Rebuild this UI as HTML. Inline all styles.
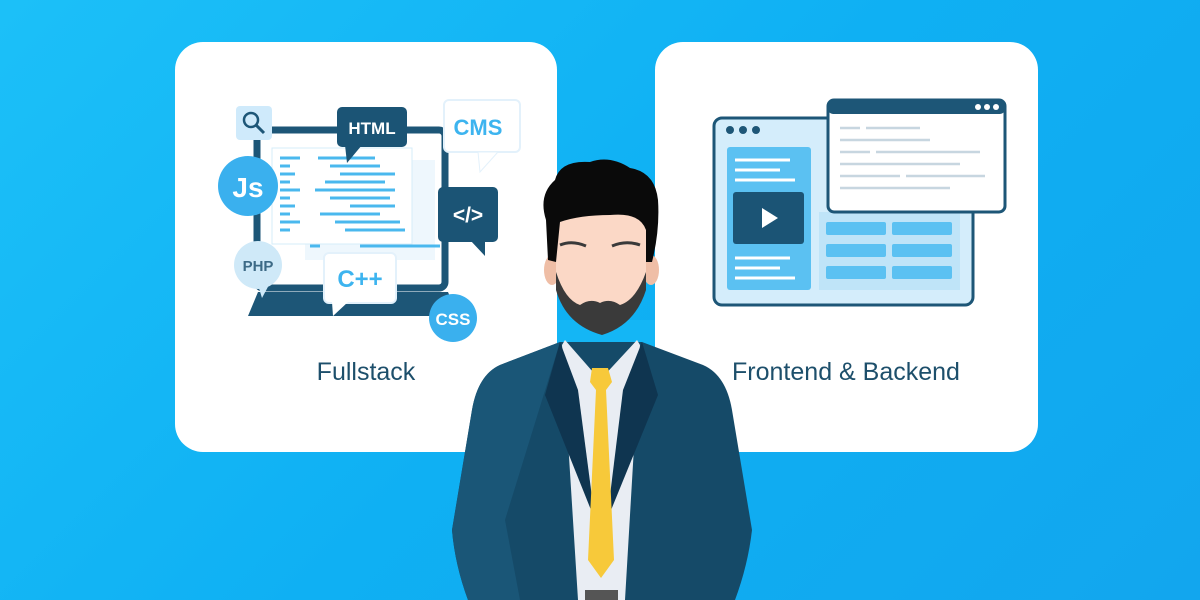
<!DOCTYPE html>
<html><head><meta charset="utf-8"><style>
html,body{margin:0;padding:0;width:1200px;height:600px;overflow:hidden}
body{background:linear-gradient(135deg,#1cc0f8 0%,#0fb0f3 50%,#12a6ee 100%);font-family:"Liberation Sans",sans-serif}
</style></head><body>
<svg width="1200" height="600" viewBox="0 0 1200 600" xmlns="http://www.w3.org/2000/svg" style="position:absolute;left:0;top:0">
<rect x="175" y="42" width="382" height="410" rx="28" fill="#fff"/>
<rect x="655" y="42" width="383" height="410" rx="28" fill="#fff"/>

<rect x="257" y="130" width="188" height="158" rx="6" fill="#fff" stroke="#1d5677" stroke-width="7"/>
<path d="M258 292 L448 292 L458 316 L248 316 Z" fill="#1d5677"/>
<rect x="305" y="160" width="130" height="100" fill="#eef7fd"/>
<rect x="272" y="148" width="140" height="96" fill="#fff" stroke="#d6ecf9"/>
<g stroke="#4ab8ee" stroke-width="3">
<line x1="280" y1="158" x2="300" y2="158"/><line x1="318" y1="158" x2="375" y2="158"/>
<line x1="280" y1="166" x2="290" y2="166"/><line x1="330" y1="166" x2="380" y2="166"/>
<line x1="280" y1="174" x2="295" y2="174"/><line x1="340" y1="174" x2="395" y2="174"/>
<line x1="280" y1="182" x2="290" y2="182"/><line x1="325" y1="182" x2="385" y2="182"/>
<line x1="280" y1="190" x2="300" y2="190"/><line x1="315" y1="190" x2="395" y2="190"/>
<line x1="280" y1="198" x2="290" y2="198"/><line x1="330" y1="198" x2="390" y2="198"/>
<line x1="280" y1="206" x2="295" y2="206"/><line x1="350" y1="206" x2="395" y2="206"/>
<line x1="280" y1="214" x2="290" y2="214"/><line x1="320" y1="214" x2="380" y2="214"/>
<line x1="280" y1="222" x2="300" y2="222"/><line x1="335" y1="222" x2="400" y2="222"/>
<line x1="280" y1="230" x2="290" y2="230"/><line x1="345" y1="230" x2="405" y2="230"/>
<line x1="310" y1="246" x2="320" y2="246"/><line x1="360" y1="246" x2="440" y2="246"/>
</g>
<rect x="236" y="106" width="36" height="34" rx="4" fill="#cfeafb"/>
<circle cx="251" cy="120" r="7" fill="none" stroke="#1d5677" stroke-width="2.5"/>
<line x1="256" y1="125" x2="264" y2="133" stroke="#1d5677" stroke-width="3"/>
<rect x="337" y="107" width="70" height="40" rx="5" fill="#1b5475"/>
<path d="M345 145 L347 163 L362 145Z" fill="#1b5475"/>
<text x="372" y="134" font-size="17" fill="#fff" text-anchor="middle" font-weight="bold">HTML</text>
<rect x="444" y="100" width="76" height="52" rx="5" fill="#fff" stroke="#e3f1fb" stroke-width="2"/>
<path d="M478 152 L480 172 L498 152Z" fill="#fff" stroke="#e3f1fb"/>
<text x="478" y="135" font-size="22" fill="#3db4ef" text-anchor="middle" font-weight="bold">CMS</text>
<circle cx="248" cy="186" r="30" fill="#3ab0ee"/>
<text x="248" y="197" font-size="28" fill="#fff" text-anchor="middle" font-weight="bold">Js</text>
<rect x="438" y="187" width="60" height="55" rx="5" fill="#1b5475"/>
<path d="M470 240 L485 256 L485 240Z" fill="#1b5475"/>
<text x="468" y="222" font-size="21" fill="#fff" text-anchor="middle" font-weight="bold">&lt;/&gt;</text>
<circle cx="258" cy="265" r="24" fill="#cfe9f8"/>
<path d="M258 285 L262 298 L270 283Z" fill="#cfe9f8"/>
<text x="258" y="271" font-size="15" fill="#3d6a86" text-anchor="middle" font-weight="bold">PHP</text>
<rect x="324" y="253" width="72" height="50" rx="5" fill="#fff" stroke="#e3f1fb" stroke-width="2"/>
<path d="M332 302 L333 316 L348 302Z" fill="#fff"/>
<text x="360" y="287" font-size="24" fill="#3db4ef" text-anchor="middle" font-weight="bold">C++</text>
<circle cx="453" cy="318" r="24" fill="#3ab0ee"/>
<text x="453" y="325" font-size="17" fill="#fff" text-anchor="middle" font-weight="bold">CSS</text>

<text x="366" y="380" font-size="25" fill="#1d4f6b" text-anchor="middle">Fullstack</text>

<rect x="714" y="118" width="259" height="187" rx="8" fill="#d4edfb" stroke="#1d5677" stroke-width="3"/>
<circle cx="730" cy="130" r="4" fill="#1d5677"/><circle cx="743" cy="130" r="4" fill="#1d5677"/><circle cx="756" cy="130" r="4" fill="#1d5677"/>
<rect x="727" y="147" width="84" height="143" rx="3" fill="#5bc1f2"/>
<g stroke="#fff" stroke-width="3"><line x1="735" y1="160" x2="790" y2="160"/><line x1="735" y1="170" x2="780" y2="170"/><line x1="735" y1="180" x2="795" y2="180"/>
<line x1="735" y1="258" x2="790" y2="258"/><line x1="735" y1="268" x2="780" y2="268"/><line x1="735" y1="278" x2="795" y2="278"/></g>
<rect x="733" y="192" width="71" height="52" rx="3" fill="#1b5475"/>
<path d="M762 208 L762 228 L778 218Z" fill="#fff"/>
<rect x="819" y="212" width="141" height="78" fill="#bfe4f8"/>
<g fill="#5bc1f2">
<rect x="826" y="222" width="60" height="13" rx="2"/><rect x="892" y="222" width="60" height="13" rx="2"/>
<rect x="826" y="244" width="60" height="13" rx="2"/><rect x="892" y="244" width="60" height="13" rx="2"/>
<rect x="826" y="266" width="60" height="13" rx="2"/><rect x="892" y="266" width="60" height="13" rx="2"/></g>
<rect x="828" y="100" width="177" height="112" rx="6" fill="#fff" stroke="#1d5677" stroke-width="3"/>
<rect x="828" y="100" width="177" height="14" rx="5" fill="#1d5677"/>
<circle cx="978" cy="107" r="3" fill="#fff"/><circle cx="987" cy="107" r="3" fill="#fff"/><circle cx="996" cy="107" r="3" fill="#fff"/>
<g stroke="#c7d6e0" stroke-width="2.5">
<line x1="840" y1="128" x2="860" y2="128"/><line x1="866" y1="128" x2="920" y2="128"/>
<line x1="840" y1="140" x2="930" y2="140"/><line x1="840" y1="152" x2="870" y2="152"/><line x1="876" y1="152" x2="980" y2="152"/>
<line x1="840" y1="164" x2="960" y2="164"/><line x1="840" y1="176" x2="900" y2="176"/><line x1="906" y1="176" x2="985" y2="176"/>
<line x1="840" y1="188" x2="950" y2="188"/></g>

<text x="846" y="380" font-size="25" fill="#1d4f6b" text-anchor="middle">Frontend &amp; Backend</text>

<rect x="557" y="320" width="98" height="60" fill="#14b6f5"/>
<path d="M560 342 L500 365 Q478 375 472 410 L452 530 Q455 565 468 600 L735 600 Q748 565 752 530 L732 410 Q726 375 703 365 L642 342 Z" fill="#154a68"/>
<path d="M560 342 L500 365 Q478 375 472 410 L452 530 Q455 565 468 600 L520 600 L505 520 Z" fill="#1a5677"/>
<path d="M565 340 L600 380 L637 340 L640 345 L625 600 L578 600 L562 345Z" fill="#e9edf3"/>
<path d="M560 342 L545 395 L595 520 L578 390 Z" fill="#0f3550"/>
<path d="M642 342 L658 395 L607 520 L623 390 Z" fill="#0f3550"/>
<path d="M592 368 L608 368 L612 382 L606 390 L614 560 L601 578 L588 560 L596 390 L590 382Z" fill="#f7c93a"/>
<rect x="585" y="590" width="33" height="10" fill="#555"/>
<ellipse cx="552" cy="270" rx="8" ry="15" fill="#efbea6"/>
<ellipse cx="651" cy="270" rx="8" ry="15" fill="#efbea6"/>
<path d="M556 225 Q556 200 600 198 Q646 200 646 225 L646 285 Q640 320 600 330 Q560 320 556 285Z" fill="#fbd8c6"/>
<path d="M556 272 Q565 300 580 305 Q590 298 600 303 Q610 298 620 305 Q636 300 646 272 L646 290 Q635 325 602 335 Q566 325 556 290Z" fill="#3a3a3a"/>
<path d="M560 245 Q572 240 586 246" stroke="#3a3a3a" stroke-width="3" fill="none"/>
<path d="M612 246 Q626 240 640 245" stroke="#3a3a3a" stroke-width="3" fill="none"/>
<path d="M548 260 L546 220 Q538 195 555 180 Q560 160 590 162 Q610 155 630 168 Q655 172 658 200 Q660 230 652 262 L646 262 L646 230 Q640 212 610 215 Q580 215 560 222 L556 262Z" fill="#0a0a0a"/>
</svg>
</body></html>
